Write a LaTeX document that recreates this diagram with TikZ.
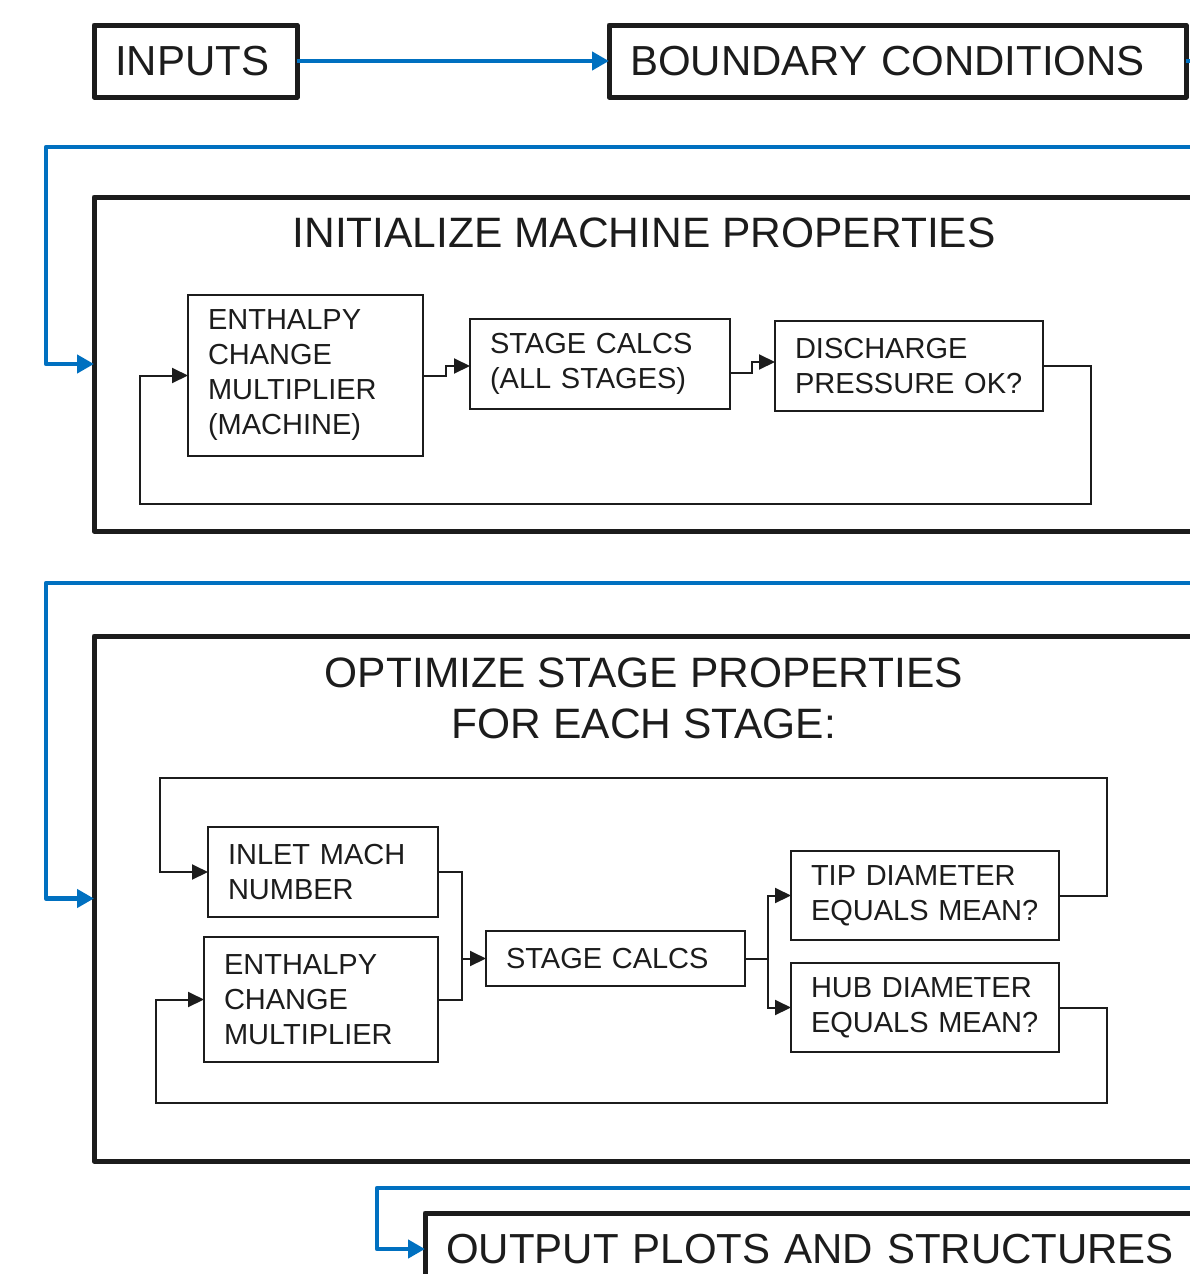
\documentclass[tikz,border=0pt]{standalone}
\usepackage{fontspec}
\setmainfont{Liberation Sans}
\usetikzlibrary{arrows.meta}
\definecolor{flowblue}{RGB}{0,112,192}
\definecolor{ink}{RGB}{28,28,28}

\tikzset{
  bigbox/.style={draw=ink, line width=5pt, line join=round, anchor=north west, outer sep=0pt,
    inner xsep=21pt, align=left, font=\fontsize{42}{51}\selectfont, text=ink},
  procbox/.style={draw=ink, line width=2pt, anchor=north west, outer sep=0pt,
    inner xsep=20pt, align=left, font=\fontsize{29}{35}\selectfont, text=ink},
  frame/.style={draw=ink, line width=5pt, line join=round, anchor=north west, inner sep=0pt, outer sep=0pt},
  title/.style={align=center, font=\fontsize{42.5}{51}\selectfont, text=ink},
  wire/.style={draw=ink, line width=2pt},
  flow/.style={wire, -{Triangle[length=16pt,width=15pt]}},
  feed/.style={draw=flowblue, line width=4.5pt, line join=round, -{Triangle[length=17pt,width=18pt]}},
}

\begin{document}
\begin{tikzpicture}[x=1pt, y=-1pt]
        \useasboundingbox (0,0) rectangle (1190,1274);
        \clip (0,0) rectangle (1190,1274);
        % top row
        \node[bigbox, text width=161pt, minimum height=72pt] (inputs) at (94,25) {INPUTS};
        \node[bigbox, text width=535pt, minimum height=72pt] (bc) at (609,25) {BOUNDARY CONDITIONS};
        % big frames
        \node[frame, minimum width=1100pt, minimum height=334pt] (init) at (94,197) {};
        \node[title] (inittitle) at (644,233) {INITIALIZE MACHINE PROPERTIES};
        \node[frame, minimum width=1100pt, minimum height=525pt] (opt) at (94,636) {};
        \node[title] (opttitle) at (644,698) {OPTIMIZE STAGE PROPERTIES\\FOR EACH STAGE:};
        \node[bigbox, text width=800pt, minimum height=72pt] (out) at (425,1213) {OUTPUT PLOTS AND STRUCTURES};
        % machine loop
        \node[procbox, text width=195pt, minimum height=161pt] (ench1) at (188,295) {ENTHALPY\\CHANGE\\MULTIPLIER\\(MACHINE)};
        \node[procbox, text width=220pt, minimum height=90pt] (calcall) at (470,319) {STAGE CALCS\\(ALL STAGES)};
        \node[procbox, text width=228pt, minimum height=90pt] (disch) at (775,321) {DISCHARGE\\PRESSURE OK?};
        % stage loop
        \node[procbox, text width=190pt, minimum height=90pt] (inlet) at (208,827) {INLET MACH\\NUMBER};
        \node[procbox, text width=194pt, minimum height=125pt] (ench2) at (204,937) {ENTHALPY\\CHANGE\\MULTIPLIER};
        \node[procbox, text width=219pt, minimum height=55pt] (calcs) at (486,931) {STAGE CALCS};
        \node[procbox, text width=228pt, minimum height=89pt] (tip) at (791,851) {TIP DIAMETER\\EQUALS MEAN?};
        \node[procbox, text width=228pt, minimum height=89pt] (hub) at (791,963) {HUB DIAMETER\\EQUALS MEAN?};
        \coordinate (initloop) at (140,504);
        \coordinate (merge) at ([xshift=-24pt]calcs.west);
        \coordinate (split) at ([xshift=23pt]calcs.east);
        \coordinate (tiploop) at (160,778);
        \coordinate (hubloop) at (156,1103);
        \coordinate (feedA) at (46,147);
        \coordinate (feedB) at (46,583);
        \coordinate (feedC) at (377,1188);
        % blue flow
        \draw[feed] (inputs.east) -- (bc.west);
        \draw[feed] (bc.east) -- ++(24,0) |- (feedA) |- (init.west);
        \draw[feed] (init.east) -- ++(16,0) |- (feedB) |- (opt.west);
        \draw[feed] (opt.east) -- ++(16,0) |- (feedC) |- (out.west);
        % inner connectors
        \draw[flow] (ench1.east) -- ++(23,0) |- ([yshift=-2pt]calcall.west);
        \draw[flow] ([yshift=-9pt]calcall.east) -- ++(22,0) |- ([yshift=4pt]disch.west);
        \draw[flow] (disch.east) -- ++(48,0) |- (initloop) |- (ench1.west);
        \draw[wire] (inlet.east) -| (merge) |- (ench2.east);
        \draw[flow] (merge) -- (calcs.west);
        \draw[wire] (calcs.east) -- (split);
        \draw[flow] (split) |- (tip.west);
        \draw[flow] (split) |- (hub.west);
        \draw[flow] (tip.east) -- ++(48,0) |- (tiploop) |- (inlet.west);
        \draw[flow] (hub.east) -- ++(48,0) |- (hubloop) |- (ench2.west);
\end{tikzpicture}
\end{document}
